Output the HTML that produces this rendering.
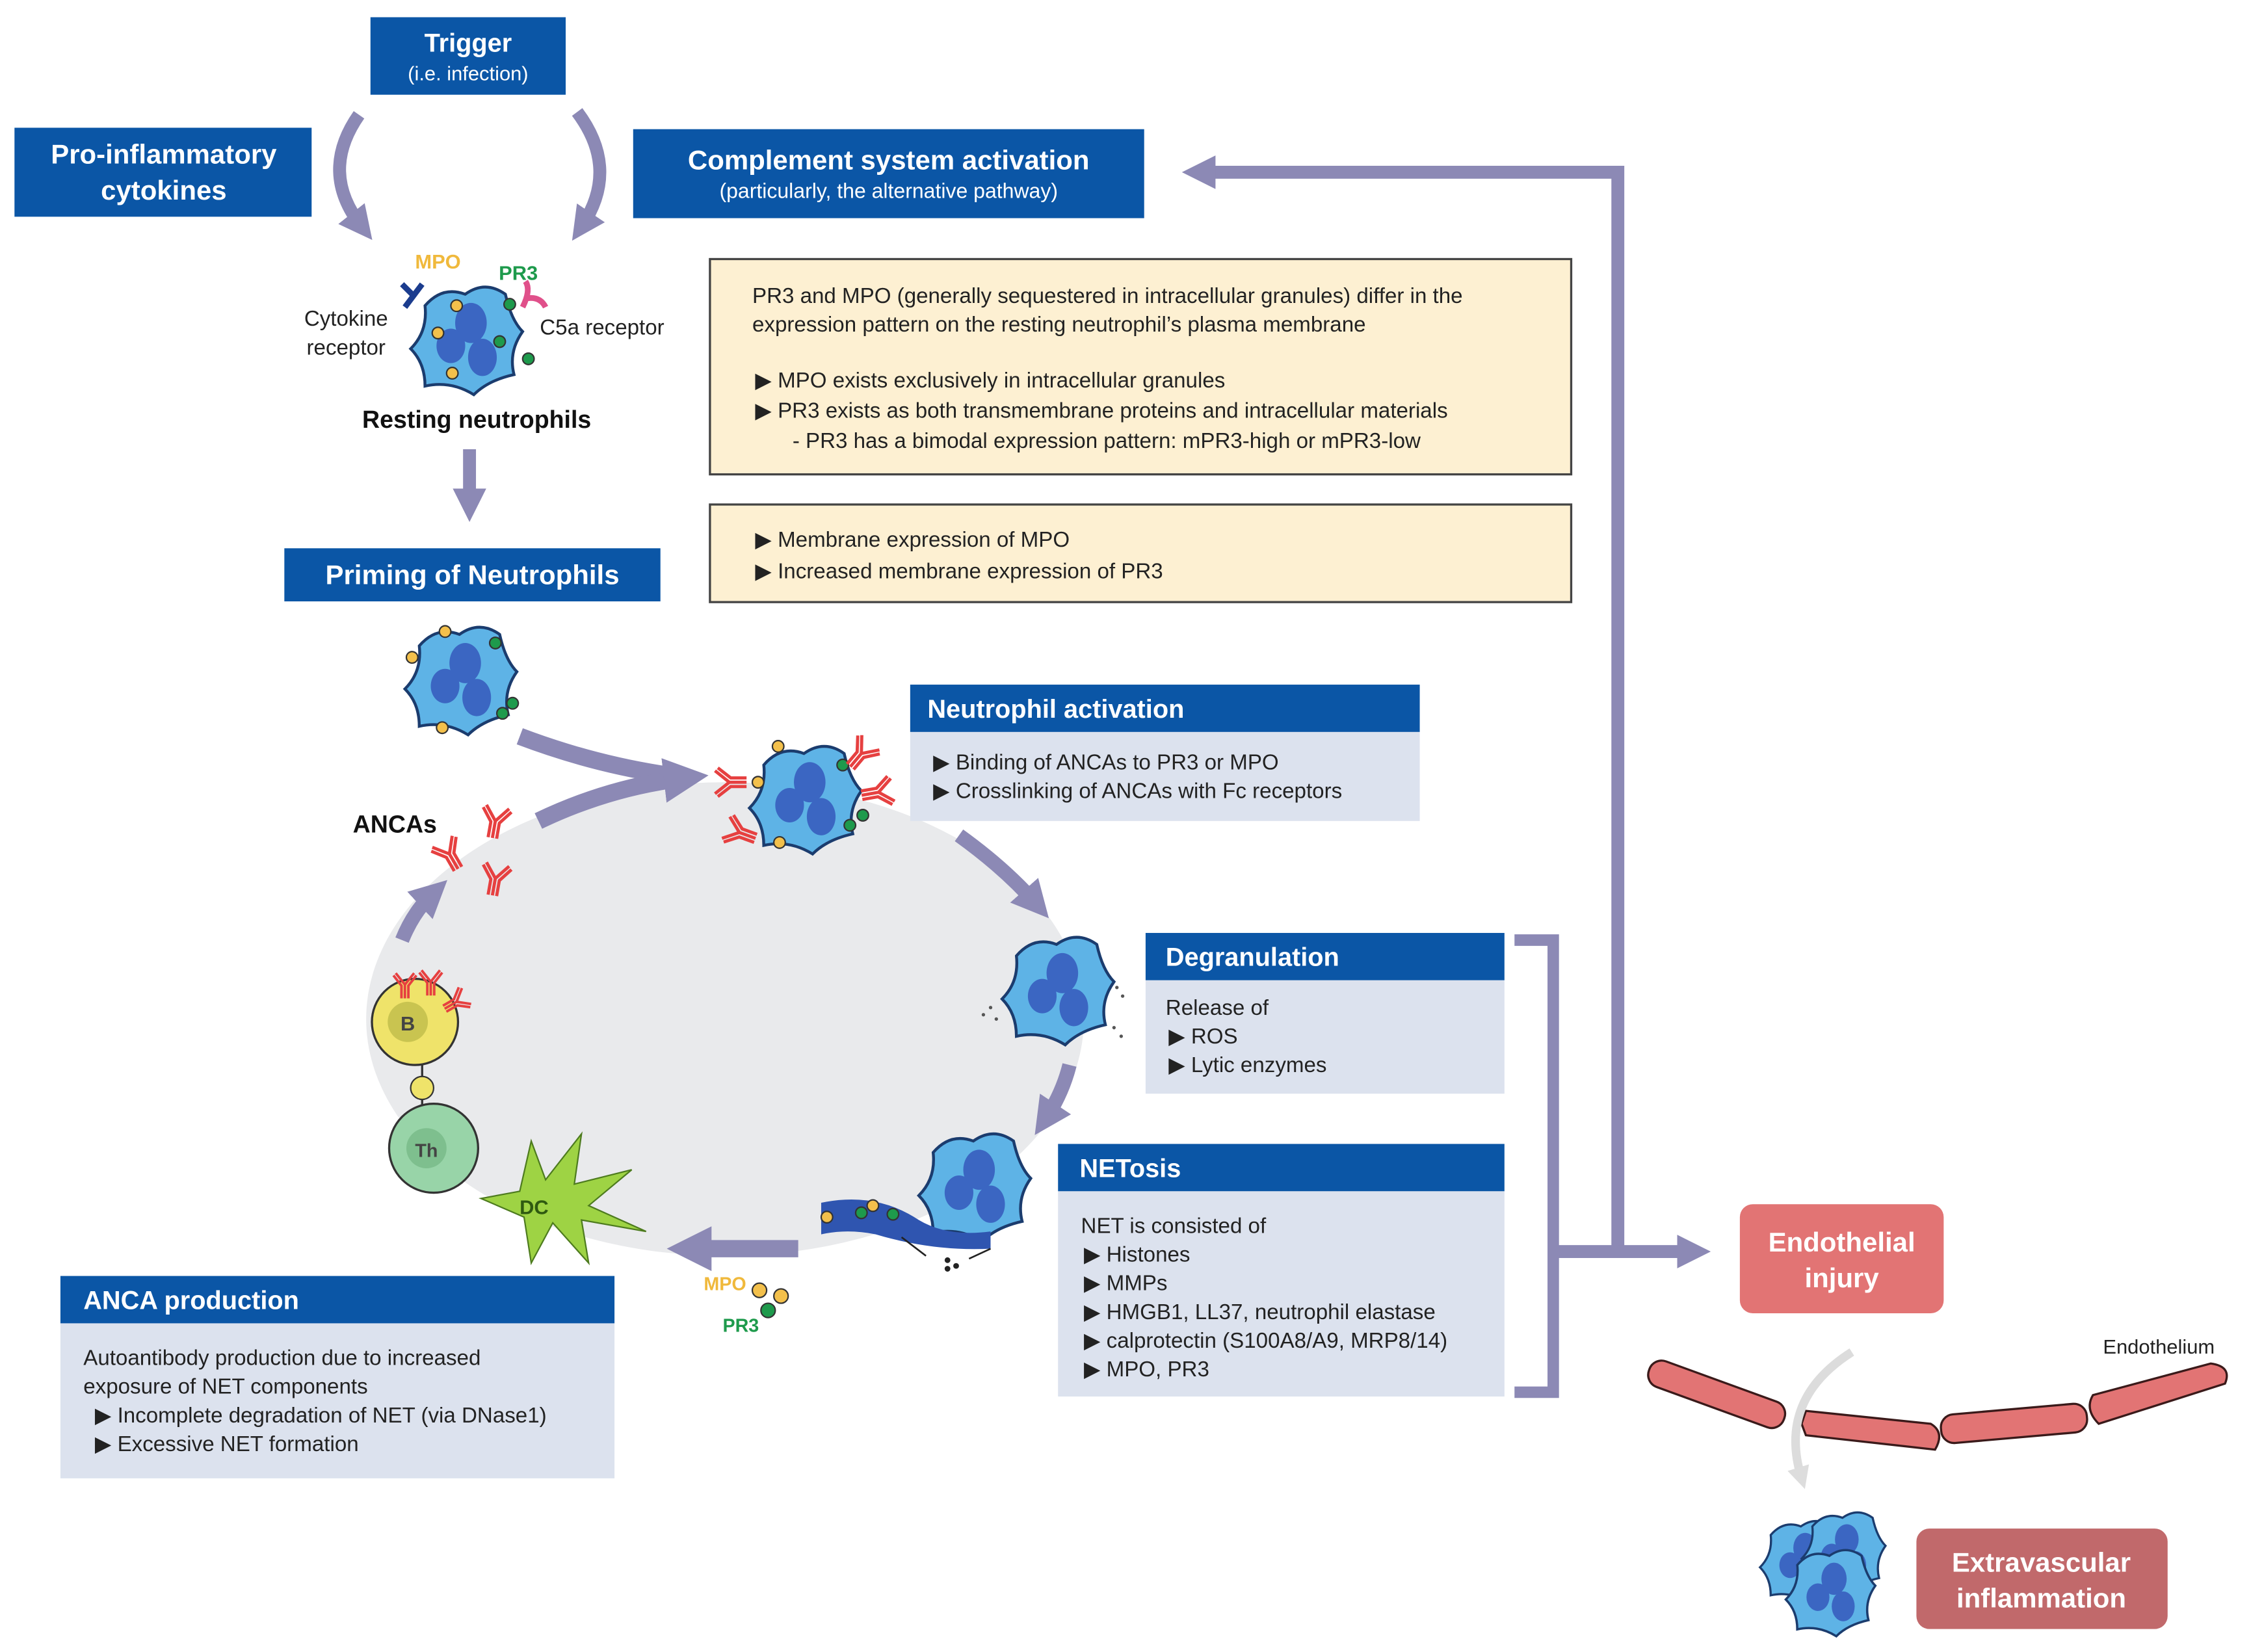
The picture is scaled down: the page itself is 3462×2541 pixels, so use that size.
<!DOCTYPE html>
<html><head><meta charset="utf-8"><style>html,body{margin:0;padding:0;background:#fff}svg{display:block}text{font-family:"Liberation Sans",sans-serif}</style></head><body>
<svg width="3462" height="2541" viewBox="0 0 1568 1151" xmlns="http://www.w3.org/2000/svg">
<defs>
<marker id="ah" viewBox="0 0 10 10" refX="5" refY="5" markerWidth="2.6" markerHeight="2.6" orient="auto"><path d="M0,0 L10,5 L0,10 Z" fill="#8c89b5"/></marker>
<marker id="ahg" viewBox="0 0 10 10" refX="5" refY="5" markerWidth="2.6" markerHeight="2.6" orient="auto"><path d="M0,0 L10,5 L0,10 Z" fill="#ddd"/></marker>
<g id="cell">
<path d="M-30,-22 Q-18,-36 -2,-30 Q12,-40 26,-30 Q30,-12 38,-4 Q28,10 32,26 Q14,30 4,40 Q-12,30 -30,34 Q-30,18 -40,8 Q-28,-4 -30,-22 Z" fill="#5eb3e6" stroke="#1b3c6e" stroke-width="2"/>
<ellipse cx="2" cy="-10" rx="11" ry="14" fill="#3b66c2"/>
<ellipse cx="-12" cy="6" rx="10" ry="12" fill="#3b66c2"/>
<ellipse cx="10" cy="14" rx="10" ry="13" fill="#3b66c2"/>
</g>
<g id="ab" fill="none" stroke="#e64040" stroke-width="2.2"><path d="M0,12 V0 L-8,-10 M0,0 L8,-10 M-3,12 V1 L-10,-8 M3,12 V1 L10,-8"/></g>
</defs>
<rect width="1568" height="1151" fill="#fff"/>

<rect x="258" y="12" width="136" height="54" fill="#0b56a6"/>
<text x="326" y="36" font-size="18" font-weight="bold" fill="#fff" text-anchor="middle">Trigger</text>
<text x="326" y="56" font-size="14" fill="#fff" text-anchor="middle">(i.e. infection)</text>
<rect x="10" y="89" width="207" height="62" fill="#0b56a6"/>
<text x="114" y="114" font-size="19" font-weight="bold" fill="#fff" text-anchor="middle">Pro-inflammatory</text>
<text x="114" y="139" font-size="19" font-weight="bold" fill="#fff" text-anchor="middle">cytokines</text>
<rect x="441" y="90" width="356" height="62" fill="#0b56a6"/>
<text x="619" y="118" font-size="19" font-weight="bold" fill="#fff" text-anchor="middle">Complement system activation</text>
<text x="619" y="138" font-size="14.5" fill="#fff" text-anchor="middle">(particularly, the alternative pathway)</text>

<path d="M250,80 Q222,120 252,158" fill="none" stroke="#8c89b5" stroke-width="9" marker-end="url(#ah)"/>
<path d="M402,78 Q432,118 405,158" fill="none" stroke="#8c89b5" stroke-width="9" marker-end="url(#ah)"/>

<use href="#cell" transform="translate(326,235)"/>
<circle cx="318" cy="213" r="4" fill="#f3c04b" stroke="#333"/>
<circle cx="315" cy="260" r="4" fill="#f3c04b" stroke="#333"/>
<circle cx="305" cy="232" r="4" fill="#f3c04b" stroke="#333"/>
<circle cx="348" cy="238" r="4" fill="#1e9a4c" stroke="#333"/>
<circle cx="355" cy="212" r="4" fill="#1e9a4c" stroke="#333"/>
<circle cx="368" cy="250" r="4" fill="#1e9a4c" stroke="#333"/>
<path d="M280,198 l8,8 l-6,8 M288,206 l6,-8" stroke="#1b3c8e" stroke-width="4" fill="none"/>
<path d="M364,214 q6,-12 2,-18 M366,208 q10,-2 14,6" stroke="#e0508a" stroke-width="4" fill="none"/>
<text x="305" y="187" font-size="14" font-weight="bold" fill="#f0b93c" text-anchor="middle">MPO</text>
<text x="361" y="195" font-size="14" font-weight="bold" fill="#1e9a4c" text-anchor="middle">PR3</text>
<text x="241" y="227" font-size="15" fill="#222" text-anchor="middle">Cytokine</text>
<text x="241" y="247" font-size="15" fill="#222" text-anchor="middle">receptor</text>
<text x="376" y="233" font-size="15" fill="#222">C5a receptor</text>
<text x="332" y="298" font-size="17" font-weight="bold" fill="#111" text-anchor="middle">Resting neutrophils</text>

<line x1="327" y1="313" x2="327" y2="352" stroke="#8c89b5" stroke-width="9" marker-end="url(#ah)"/>
<rect x="198" y="382" width="262" height="37" fill="#0b56a6"/>
<text x="329" y="407" font-size="19" font-weight="bold" fill="#fff" text-anchor="middle">Priming of Neutrophils</text>

<rect x="494.5" y="180.5" width="600" height="150" fill="#fdf0d2" stroke="#444" stroke-width="1.5"/>
<g font-size="15" fill="#222">
<text x="524" y="211">PR3 and MPO (generally sequestered in intracellular granules) differ in the</text>
<text x="524" y="231">expression pattern on the resting neutrophil’s plasma membrane</text>
<text x="526" y="270">▶ MPO exists exclusively in intracellular granules</text>
<text x="526" y="291">▶ PR3 exists as both transmembrane proteins and intracellular materials</text>
<text x="552" y="312">- PR3 has a bimodal expression pattern: mPR3-high or mPR3-low</text>
</g>
<rect x="494.5" y="351.5" width="600" height="68" fill="#fdf0d2" stroke="#444" stroke-width="1.5"/>
<g font-size="15" fill="#222">
<text x="526" y="381">▶ Membrane expression of MPO</text>
<text x="526" y="403">▶ Increased membrane expression of PR3</text>
</g>

<ellipse cx="505" cy="710" rx="250" ry="165" fill="#e9eaec"/>

<use href="#cell" transform="translate(322,472)"/>
<circle cx="310" cy="440" r="4" fill="#f3c04b" stroke="#333"/>
<circle cx="287" cy="458" r="4" fill="#f3c04b" stroke="#333"/>
<circle cx="308" cy="507" r="4" fill="#f3c04b" stroke="#333"/>
<circle cx="345" cy="448" r="4" fill="#1e9a4c" stroke="#333"/>
<circle cx="357" cy="490" r="4" fill="#1e9a4c" stroke="#333"/>
<circle cx="350" cy="497" r="4" fill="#1e9a4c" stroke="#333"/>

<path d="M362,513 Q420,535 480,542" fill="none" stroke="#8c89b5" stroke-width="12"/>
<path d="M375,572 Q425,548 478,542" fill="none" stroke="#8c89b5" stroke-width="12" marker-end="url(#ah)"/>

<use href="#cell" transform="translate(562,555)"/>
<circle cx="542" cy="520" r="4" fill="#f3c04b" stroke="#333"/>
<circle cx="528" cy="545" r="4" fill="#f3c04b" stroke="#333"/>
<circle cx="543" cy="587" r="4" fill="#f3c04b" stroke="#333"/>
<circle cx="587" cy="533" r="4" fill="#1e9a4c" stroke="#333"/>
<circle cx="592" cy="575" r="4" fill="#1e9a4c" stroke="#333"/>
<circle cx="601" cy="568" r="4" fill="#1e9a4c" stroke="#333"/>
<use href="#ab" transform="translate(508,545) rotate(-90)"/>
<use href="#ab" transform="translate(600,525) rotate(40)"/>
<use href="#ab" transform="translate(612,552) rotate(80)"/>
<use href="#ab" transform="translate(515,580) rotate(-70)"/>

<text x="275" y="580" font-size="17" font-weight="bold" fill="#111" text-anchor="middle">ANCAs</text>
<use href="#ab" transform="translate(345,572) rotate(10)"/>
<use href="#ab" transform="translate(313,595) rotate(-30)"/>
<use href="#ab" transform="translate(345,612) rotate(10)"/>

<rect x="634" y="477" width="355" height="33" fill="#0b56a6"/>
<text x="646" y="500" font-size="18" font-weight="bold" fill="#fff">Neutrophil activation</text>
<rect x="634" y="510" width="355" height="62" fill="#dce2ee"/>
<g font-size="15" fill="#222"><text x="650" y="536">▶ Binding of ANCAs to PR3 or MPO</text><text x="650" y="556">▶ Crosslinking of ANCAs with Fc receptors</text></g>

<path d="M668,582 Q700,605 722,630" fill="none" stroke="#8c89b5" stroke-width="10" marker-end="url(#ah)"/>
<path d="M745,742 Q740,762 728,780" fill="none" stroke="#8c89b5" stroke-width="10" marker-end="url(#ah)"/>
<path d="M556,870 L480,870" fill="none" stroke="#8c89b5" stroke-width="12" marker-end="url(#ah)"/>
<path d="M280,655 Q288,635 302,622" fill="none" stroke="#8c89b5" stroke-width="10" marker-end="url(#ah)"/>

<use href="#cell" transform="translate(738,688)"/>
<g fill="#555"><circle cx="690" cy="702" r="1.2"/><circle cx="685" cy="707" r="1.2"/><circle cx="694" cy="710" r="1.2"/><circle cx="778" cy="688" r="1.2"/><circle cx="782" cy="694" r="1.2"/><circle cx="776" cy="716" r="1.2"/><circle cx="781" cy="722" r="1.2"/></g>

<rect x="798" y="650" width="250" height="33" fill="#0b56a6"/>
<text x="812" y="673" font-size="18" font-weight="bold" fill="#fff">Degranulation</text>
<rect x="798" y="683" width="250" height="79" fill="#dce2ee"/>
<g font-size="15" fill="#222"><text x="812" y="707">Release of</text><text x="814" y="727">▶ ROS</text><text x="814" y="747">▶ Lytic enzymes</text></g>

<use href="#cell" transform="translate(680,825)"/>
<path d="M572,838 Q610,830 640,850 Q660,862 690,858 L690,870 Q650,872 610,860 Q590,856 572,860 Z" fill="#2f55b0"/>
<circle cx="576" cy="848" r="4" fill="#f3c04b" stroke="#333"/><circle cx="608" cy="840" r="4" fill="#f3c04b" stroke="#333"/><circle cx="600" cy="845" r="4" fill="#1e9a4c" stroke="#333"/><circle cx="622" cy="846" r="4" fill="#1e9a4c" stroke="#333"/>
<g fill="#222"><circle cx="660" cy="878" r="2"/><circle cx="666" cy="882" r="2"/><circle cx="660" cy="884" r="2"/></g>
<path d="M645,875 L628,862 M675,877 L690,870" stroke="#222" stroke-width="1.2"/>

<rect x="737" y="797" width="311" height="33" fill="#0b56a6"/>
<text x="752" y="820" font-size="18" font-weight="bold" fill="#fff">NETosis</text>
<rect x="737" y="830" width="311" height="143" fill="#dce2ee"/>
<g font-size="15" fill="#222"><text x="753" y="859">NET is consisted of</text><text x="755" y="879">▶ Histones</text><text x="755" y="899">▶ MMPs</text><text x="755" y="919">▶ HMGB1, LL37, neutrophil elastase</text><text x="755" y="939">▶ calprotectin (S100A8/A9, MRP8/14)</text><text x="755" y="959">▶ MPO, PR3</text></g>

<text x="505" y="899" font-size="13" font-weight="bold" fill="#f0b93c" text-anchor="middle">MPO</text>
<circle cx="529" cy="899" r="5" fill="#f3c04b" stroke="#333"/><circle cx="544" cy="903" r="5" fill="#f3c04b" stroke="#333"/><circle cx="535" cy="913" r="5" fill="#1e9a4c" stroke="#333"/>
<text x="516" y="928" font-size="13" font-weight="bold" fill="#1e9a4c" text-anchor="middle">PR3</text>

<circle cx="289" cy="712" r="30" fill="#efe36a" stroke="#333" stroke-width="1.5"/>
<circle cx="284" cy="712" r="14" fill="#c9c450"/>
<text x="284" y="718" font-size="14" font-weight="bold" fill="#444" text-anchor="middle">B</text>
<use href="#ab" transform="translate(282,686) rotate(0) scale(0.8)"/><use href="#ab" transform="translate(300,684) scale(0.8)"/><use href="#ab" transform="translate(318,698) rotate(60) scale(0.8)"/>
<line x1="294" y1="742" x2="294" y2="770" stroke="#333" stroke-width="1.5"/>
<circle cx="294" cy="758" r="8" fill="#efe36a" stroke="#333"/>
<circle cx="302" cy="800" r="31" fill="#98d4a8" stroke="#333" stroke-width="1.5"/>
<circle cx="297" cy="800" r="14" fill="#7ebf8e"/>
<text x="297" y="806" font-size="13" font-weight="bold" fill="#444" text-anchor="middle">Th</text>
<g stroke="#4d7b1e" stroke-width="1" fill="#9ed344">
<path d="M370,795 L380,822 L405,790 L400,825 L440,815 L410,840 L450,858 L405,850 L410,880 L385,852 L370,880 L365,848 L335,835 L362,830 Z"/>
</g>
<text x="372" y="846" font-size="14" font-weight="bold" fill="#2f5a10" text-anchor="middle">DC</text>

<rect x="42" y="889" width="386" height="33" fill="#0b56a6"/>
<text x="58" y="912" font-size="18" font-weight="bold" fill="#fff">ANCA production</text>
<rect x="42" y="922" width="386" height="108" fill="#dce2ee"/>
<g font-size="15" fill="#222"><text x="58" y="951">Autoantibody production due to increased</text><text x="58" y="971">exposure of NET components</text><text x="66" y="991">▶ Incomplete degradation of NET (via DNase1)</text><text x="66" y="1011">▶ Excessive NET formation</text></g>

<path d="M1055,655 H1082 V970 H1055" fill="none" stroke="#8c89b5" stroke-width="8"/>
<path d="M1082,872 H1127 V120 H835" fill="none" stroke="#8c89b5" stroke-width="9" marker-end="url(#ah)"/>
<path d="M1127,872 H1180" fill="none" stroke="#8c89b5" stroke-width="9" marker-end="url(#ah)"/>

<rect x="1212" y="839" width="142" height="76" rx="9" fill="#e27474"/>
<text x="1283" y="872" font-size="19" font-weight="bold" fill="#fff" text-anchor="middle">Endothelial</text>
<text x="1283" y="897" font-size="19" font-weight="bold" fill="#fff" text-anchor="middle">injury</text>

<text x="1465" y="943" font-size="14" fill="#222">Endothelium</text>
<g fill="#e27474" stroke="#3a1a1a" stroke-width="1.5">
<rect x="1146" y="962" width="100" height="19" rx="9" transform="rotate(20 1196 971)"/>
<path d="M1258,983 L1345,992 Q1355,998 1348,1010 L1258,1000 L1255,992 Z"/>
<rect x="1352" y="982" width="102" height="20" rx="9" transform="rotate(-5 1400 992)"/>
<path d="M1458,972 L1540,950 Q1555,952 1550,964 L1462,992 Q1452,982 1458,972 Z"/>
</g>
<path d="M1290,942 Q1238,975 1255,1030" fill="none" stroke="#dcdcdc" stroke-width="6" marker-end="url(#ahg)"/>

<use href="#cell" transform="translate(1256,1086) scale(0.75)"/>
<use href="#cell" transform="translate(1285,1080) scale(0.75)"/>
<use href="#cell" transform="translate(1276,1108) scale(0.8)"/>

<rect x="1335" y="1065" width="175" height="70" rx="9" fill="#c1696b"/>
<text x="1422" y="1095" font-size="19" font-weight="bold" fill="#fff" text-anchor="middle">Extravascular</text>
<text x="1422" y="1120" font-size="19" font-weight="bold" fill="#fff" text-anchor="middle">inflammation</text>
</svg>
</body></html>
